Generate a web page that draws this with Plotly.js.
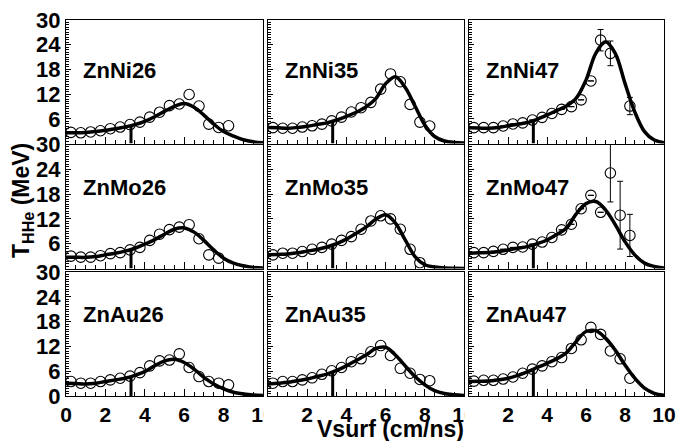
<!DOCTYPE html>
<html><head><meta charset="utf-8">
<script src="https://cdn.plot.ly/plotly-3.0.1.min.js"></script>
<style>html,body{margin:0;padding:0;background:#fff}#chart{width:679px;height:441px}</style>
</head><body><div id="chart"></div>
<script>
// ---- data ----
const panelNames = ['ZnNi26','ZnNi35','ZnNi47','ZnMo26','ZnMo35','ZnMo47','ZnAu26','ZnAu35','ZnAu47'];

const xPts17 = [0.25,0.75,1.25,1.75,2.25,2.75,3.25,3.75,4.25,4.75,5.25,5.75,6.25,6.75,7.25,7.75,8.25];
const xPts16 = [0.25,0.75,1.25,1.75,2.25,2.75,3.25,3.75,4.25,4.75,5.25,5.75,6.25,6.75,7.25,7.75];
const xPtsNi47 = [0.25,0.75,1.25,1.75,2.25,2.75,3.25,3.75,4.25,4.75,5.25,5.75,6.25,6.75,7.25,8.25];

const tNi26 = [2.7,2.6,2.8,3.1,3.6,4.0,4.6,5.2,6.4,7.6,9.2,9.6,11.9,9.1,4.7,3.9,4.3];
const tNi35 = [3.85,3.7,3.7,4.0,4.3,4.7,5.5,6.4,7.65,8.7,10.0,13.2,16.9,15.0,9.5,5.2,4.25];
const tNi47 = [3.85,3.85,3.85,4.25,4.75,5.0,5.7,6.35,7.3,8.3,8.95,10.6,15.2,25.1,21.9,9.1];
const eNi47 = [0,0,0,0,0,0,0,0,0,0,0,0,0,2.6,3.0,2.1];
const tMo26 = [3.0,2.75,2.75,3.1,3.6,3.85,4.5,5.1,6.8,8.3,9.4,10.0,10.6,7.2,3.3,2.5];
const tMo35 = [3.3,3.7,3.7,4.1,4.65,5.1,5.9,6.8,7.7,9.5,11.5,12.75,12.0,9.5,4.65,1.4];
const tMo47 = [3.85,3.85,4.15,4.65,5.1,5.2,5.9,6.4,7.5,9.35,10.7,14.45,17.7,13.6,23.1,12.9,8.0];
const eMo47 = [0,0,0,0,0,0,0,0,0,0,0,0,0,0,7.0,8.2,5.1];
const tAu26 = [3.5,3.1,3.1,3.5,3.9,4.3,4.8,5.65,7.3,8.5,8.7,10.2,6.9,4.7,3.5,3.1,2.7];
const tAu35 = [3.1,3.5,3.5,3.9,4.4,5.25,6.1,6.9,8.3,9.0,10.7,12.2,9.8,6.7,5.5,4.0,3.7];
const tAu47 = [3.6,3.8,3.8,4.1,4.6,5.5,6.5,7.3,8.3,9.3,11.5,13.6,16.6,14.9,10.9,9.0,4.3];

const xCurve = [0,0.5,1,1.5,2,2.5,3,3.5,4,4.5,5,5.5,6,6.5,7,7.5,8,8.5,9,9.5,10];
const cNi26 = [2.6,2.6,2.7,2.9,3.2,3.6,4.0,4.6,5.4,6.5,7.8,9.0,9.7,8.8,6.9,4.7,2.9,1.8,0.9,0.4,0.15];
const cNi35 = [3.9,3.8,3.7,3.9,4.2,4.6,5.0,5.7,6.6,7.6,8.9,10.9,14.5,16.2,13.6,9.1,4.5,1.7,0.6,0.25,0.15];
const cNi47 = [3.8,3.75,3.7,3.9,4.3,4.7,5.1,5.9,6.9,8.0,9.1,11.0,15.4,21.9,24.7,21.9,14.6,7.7,2.9,0.85,0.2];
const cMo26 = [2.7,2.7,2.7,2.9,3.3,3.7,4.2,4.9,5.9,7.0,8.3,9.5,9.8,8.8,6.8,4.5,2.5,1.3,0.65,0.25,0.1];
const cMo35 = [3.3,3.4,3.5,3.8,4.2,4.6,5.2,6.0,7.1,8.5,10.0,11.9,13.0,11.0,6.9,2.9,0.9,0.35,0.1,0.05,0];
const cMo47 = [3.7,3.8,3.85,4.1,4.5,4.9,5.3,6.0,6.9,8.2,9.8,13.2,15.7,16.2,14.2,10.6,6.5,3.3,1.3,0.5,0.1];
const cAu26 = [3.1,3.0,2.9,3.1,3.5,3.9,4.3,5.0,5.9,7.3,8.5,8.9,8.1,6.5,4.5,2.9,1.7,0.9,0.5,0.25,0.15];
const cAu35 = [2.9,3.1,3.3,3.7,4.1,4.7,5.3,6.2,7.3,8.6,9.9,11.5,11.8,9.9,7.3,4.7,2.7,1.3,0.6,0.3,0.1];
const cAu47 = [3.5,3.55,3.6,3.9,4.3,5.0,5.9,6.9,7.9,9.0,10.5,13.2,15.6,15.8,14.0,11.1,7.5,4.3,1.9,0.65,0.15];

const cutV = 3.3;

const xTickFirst = [0,2,4,6,8,10];
const xTickOther = [2,4,6,8,10];
const yTickBottom = [0,6,12,18,24,30];
const yTickUpper = [6,12,18,24,30];

const panels = [
  {x: xPts17, t: tNi26, e: null, c: cNi26},
  {x: xPts17, t: tNi35, e: null, c: cNi35},
  {x: xPtsNi47, t: tNi47, e: eNi47, c: cNi47},
  {x: xPts16, t: tMo26, e: null, c: cMo26},
  {x: xPts16, t: tMo35, e: null, c: cMo35},
  {x: xPts17, t: tMo47, e: eMo47, c: cMo47},
  {x: xPts17, t: tAu26, e: null, c: cAu26},
  {x: xPts17, t: tAu35, e: null, c: cAu35},
  {x: xPts17, t: tAu47, e: null, c: cAu47}
];

// ---- drawing ----
function interp(xs, ys, v){
  for (let i=0;i<xs.length-1;i++){
    if (v>=xs[i] && v<=xs[i+1]){ const f=(v-xs[i])/(xs[i+1]-xs[i]); return ys[i]+f*(ys[i+1]-ys[i]); }
  }
  return ys[ys.length-1];
}

const W = 598, H = 376;
const colDom = [[0,197/W],[202/W,398/W],[403/W,1]];
const rowDom = [[252.5/H,1],[127.5/H,251.5/H],[0,124/H]];
const labelY = [17.7,19.7,19.7];
const FONT = 'Liberation Sans, Arial, Helvetica, sans-serif';

const traces = [];
const layout = {
  width: 679, height: 441,
  margin: {l:66, r:15, t:20, b:45},
  paper_bgcolor: '#fff', plot_bgcolor: '#fff',
  showlegend: false,
  annotations: [], shapes: []
};

panels.forEach((p, i) => {
  const r = Math.floor(i/3), c = i%3;
  const sfx = i===0 ? '' : String(i+1);
  const xa = 'x'+sfx, ya = 'y'+sfx;
  traces.push({x: xCurve, y: p.c, xaxis: xa, yaxis: ya, type:'scatter', mode:'lines',
    line:{color:'black', width:3.5, shape:'spline', smoothing:1}, hoverinfo:'skip'});
  const top = interp(xCurve, p.c, cutV);
  traces.push({x:[cutV,cutV], y:[0, top], xaxis: xa, yaxis: ya, type:'scatter', mode:'lines',
    line:{color:'black', width:3}, hoverinfo:'skip'});
  const pt = {x: p.x, y: p.t, xaxis: xa, yaxis: ya, type:'scatter', mode:'markers',
    marker:{symbol:'circle-open', size:10.5, color:'black', line:{width:1.1, color:'black'}}};
  if (p.e) pt.error_y = {type:'data', array:p.e, visible:true, color:'black', thickness:1, width:3};
  traces.push(pt);

  const xv = c===0 ? xTickFirst : xTickOther;
  const yv = r===2 ? yTickBottom : yTickUpper;
  layout['xaxis'+sfx] = {
    domain: colDom[c], anchor: ya, range:[0,10],
    showline:true, mirror:true, linecolor:'black', linewidth:1,
    showgrid:false, zeroline:false,
    ticks:'inside', ticklen:7, tickwidth:1, tickcolor:'black',
    tickmode:'array', tickvals: xv, ticktext: xv.map(String),
    showticklabels: r===2,
    tickfont:{family:FONT, size:21, color:'black', weight:'bold'},
    minor:{ticks:'inside', ticklen:4, tickcolor:'black', tickwidth:1, tickmode:'linear', tick0:0, dtick:0.5, showgrid:false}
  };
  layout['yaxis'+sfx] = {
    domain: rowDom[r], anchor: xa, range:[0,30],
    showline:true, mirror:true, linecolor:'black', linewidth:1,
    showgrid:false, zeroline:false,
    ticks:'inside', ticklen:5, tickwidth:1, tickcolor:'black',
    tickmode:'array', tickvals: yv, ticktext: yv.map(String),
    showticklabels: c===0,
    tickfont:{family:FONT, size:22, color:'black', weight:'bold'},
    minor:{ticks:'inside', ticklen:2.5, tickcolor:'black', tickwidth:1, tickmode:'linear', tick0:0, dtick:0.6, showgrid:false}
  };
  layout.annotations.push({text: panelNames[i], xref: xa, yref: ya, x: 0.75, y: labelY[r],
    xanchor:'left', yanchor:'middle', showarrow:false,
    font:{family:FONT, size:22, color:'black', weight:'bold'}});
});

layout.annotations.push({text:'Vsurf (cm/ns)', xref:'paper', yref:'paper', x:(390-66)/W, y:(396-429)/H,
  xanchor:'center', yanchor:'middle', showarrow:false, font:{family:FONT, size:23, color:'black', weight:'bold'}});
layout.annotations.push({text:'T<sub>HHe</sub> (MeV)', xref:'paper', yref:'paper', x:(22-66)/W, y:(396-200)/H,
  xanchor:'center', yanchor:'middle', textangle:-90, showarrow:false, font:{family:FONT, size:23, color:'black', weight:'bold'}});

// cover right halves of the "10" labels where the next panel begins
layout.shapes.push({type:'rect', xref:'paper', yref:'paper', layer:'above',
  x0:(263.5-66)/W, x1:(290-66)/W, y0:(396-397.5)/H, y1:(396-426)/H, fillcolor:'#fff', line:{width:0}});
layout.shapes.push({type:'rect', xref:'paper', yref:'paper', layer:'above',
  x0:(464.5-66)/W, x1:(490-66)/W, y0:(396-397.5)/H, y1:(396-426)/H, fillcolor:'#fff', line:{width:0}});

Plotly.newPlot('chart', traces, layout, {staticPlot:true, displayModeBar:false});
</script>
</body></html>
